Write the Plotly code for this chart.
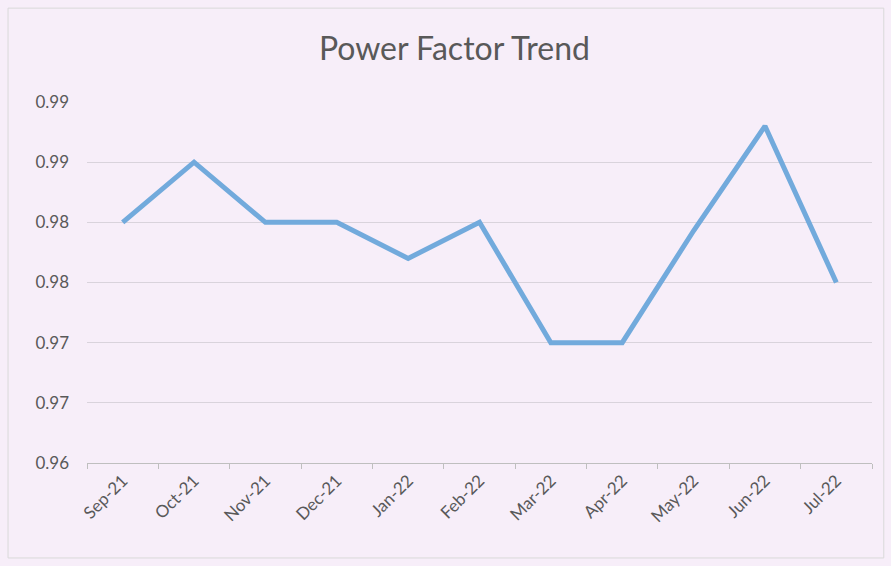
import plotly.graph_objects as go

months = ["Sep-21", "Oct-21", "Nov-21", "Dec-21", "Jan-22", "Feb-22",
          "Mar-22", "Apr-22", "May-22", "Jun-22", "Jul-22"]
power_factor = [0.980, 0.985, 0.980, 0.980, 0.977, 0.980,
                0.970, 0.970, 0.9793, 0.988, 0.975]
y_tick_vals = [0.96, 0.965, 0.97, 0.975, 0.98, 0.985, 0.99]
y_tick_text = ["0.96", "0.97", "0.97", "0.98", "0.98", "0.99", "0.99"]

bg = "#F7EEF9"
font_family = "Lato, 'Open Sans', sans-serif"

fig = go.Figure()
fig.add_trace(go.Scatter(
    x=months, y=power_factor, mode="lines",
    line=dict(color="#72AADC", width=5),
    showlegend=False,
))

fig.update_layout(
    width=891, height=566,
    paper_bgcolor=bg, plot_bgcolor=bg,
    margin=dict(l=87, r=19, t=102, b=103),
    title=dict(text="Power Factor Trend", x=0.51, xanchor="center",
               y=0.913, yanchor="middle",
               font=dict(family=font_family, size=32, color="#595959")),
    font=dict(family=font_family, color="#595959"),
    xaxis=dict(
        type="category", tickangle=-45, tickson="boundaries",
        ticks="outside", ticklen=5, tickcolor="#BFBFBF",
        showline=True, linecolor="#BFBFBF", linewidth=1,
        showgrid=False, tickfont=dict(size=17, color="#595959"),
        range=[-0.5, 10.5],
    ),
    yaxis=dict(
        range=[0.96, 0.99], tickvals=y_tick_vals, ticktext=y_tick_text,
        showgrid=True, gridcolor="#D9D3DC", gridwidth=1,
        zeroline=False, showline=False,
        tickfont=dict(size=17, color="#595959"),
        ticklabelstandoff=17,
    ),
    shapes=[dict(type="rect", xref="paper", yref="paper",
                 x0=-0.1006, x1=1.015, y0=-0.263, y1=1.26,
                 line=dict(color="#D9D9D9", width=1))],
)

fig.write_html(
    "out.html",
    config={"displayModeBar": False},
    post_script="document.body.style.margin='0';"
                "document.body.style.background='#F7EEF9';",
)
